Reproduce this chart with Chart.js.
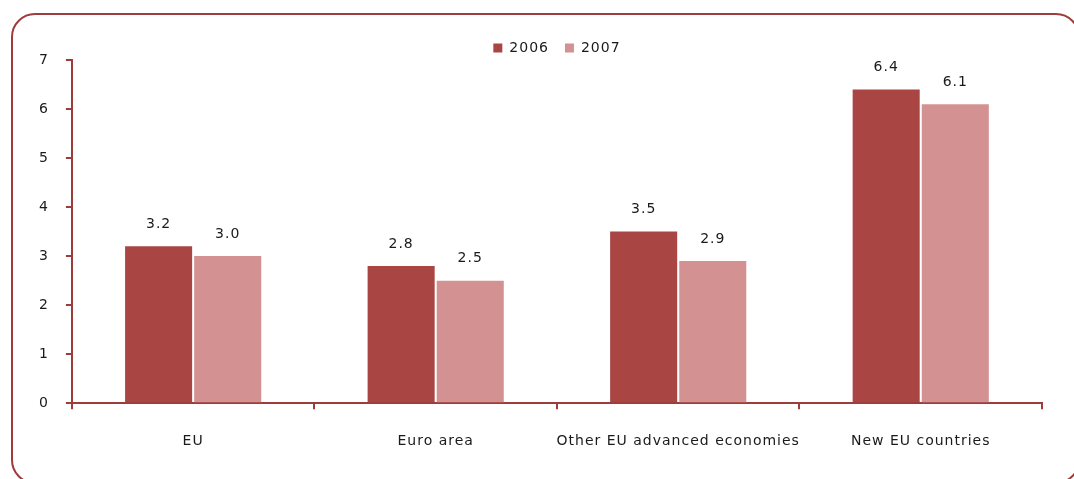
<!DOCTYPE html>
<html>
<head>
<meta charset="utf-8">
<script src="https://cdn.jsdelivr.net/npm/chart.js@4.4.1/dist/chart.umd.min.js"></script>
<style>
  html, body { margin: 0; padding: 0; background: #ffffff; }
  #wrap { position: relative; width: 1074px; height: 479px; overflow: hidden; }
  #frame {
    position: absolute; left: 11px; top: 13px; width: 1069px; height: 471px;
    border: 2px solid #9e3b3b; border-radius: 24px; box-sizing: border-box;
  }
  #c { position: absolute; left: 0; top: 0; }
</style>
</head>
<body>
<div id="wrap">
  <div id="frame"></div>
  <canvas id="c" width="1074" height="479"></canvas>
</div>
<script>
const categories = ["EU", "Euro area", "Other EU advanced economies", "New EU countries"];
const values2006 = [3.2, 2.8, 3.5, 6.4];
const values2007 = [3.0, 2.5, 2.9, 6.1];
const yTicks = [0, 1, 2, 3, 4, 5, 6, 7];

const axisColor = "#9e3b3b";
const textColor = "#1a1a1a";
const fontFamily = "'DejaVu Sans', Verdana, sans-serif";

// Slightly open letter spacing for all canvas text
const spacing = {
  id: "spacing",
  beforeUpdate(chart) { chart.ctx.letterSpacing = "1px"; },
  beforeDraw(chart) { chart.ctx.letterSpacing = "1px"; }
};

// Keeps the legend band short while items stay widely spaced
const legendBand = {
  id: "legendBand",
  afterInit(chart) {
    const lg = chart.legend;
    if (!lg) return;
    const fit = lg.fit;
    lg.fit = function () {
      fit.call(this);
      this.height = 35;
    };
  }
};

// Writes each bar's value above it
const valueLabels = {
  id: "valueLabels",
  afterDatasetsDraw(chart) {
    const ctx = chart.ctx;
    ctx.save();
    ctx.font = "14px " + fontFamily;
    ctx.fillStyle = textColor;
    ctx.textAlign = "center";
    ctx.textBaseline = "middle";
    chart.data.datasets.forEach((ds, i) => {
      chart.getDatasetMeta(i).data.forEach((bar, j) => {
        ctx.fillText(ds.data[j].toFixed(1), bar.x, bar.y - 22);
      });
    });
    ctx.restore();
  }
};

new Chart(document.getElementById("c"), {
  type: "bar",
  data: {
    labels: categories,
    datasets: [
      { label: "2006", data: values2006, backgroundColor: "#a94644" },
      { label: "2007", data: values2007, backgroundColor: "#d39291" }
    ]
  },
  options: {
    responsive: false,
    animation: false,
    layout: { padding: { left: 22, right: 32, top: 25, bottom: 5 } },
    datasets: { bar: { categoryPercentage: 0.57, barPercentage: 0.97 } },
    plugins: {
      legend: {
        position: "top",
        fullSize: false,
        labels: {
          boxWidth: 9, boxHeight: 9, padding: 16,
          color: textColor,
          font: { family: fontFamily, size: 14 }
        }
      },
      tooltip: { enabled: false }
    },
    scales: {
      x: {
        border: { color: axisColor, width: 2 },
        grid: { drawOnChartArea: false, color: axisColor, tickLength: 6, lineWidth: 2 },
        ticks: { color: textColor, padding: 24, maxRotation: 0, autoSkip: false, font: { family: fontFamily, size: 14 } }
      },
      y: {
        min: 0, max: 7,
        afterBuildTicks(axis) { axis.ticks = yTicks.map(v => ({ value: v })); },
        border: { color: axisColor, width: 2 },
        grid: { drawOnChartArea: false, color: axisColor, tickLength: 6, lineWidth: 2 },
        ticks: { color: textColor, padding: 17, font: { family: fontFamily, size: 14 } }
      }
    }
  },
  plugins: [spacing, legendBand, valueLabels]
});
</script>
</body>
</html>
